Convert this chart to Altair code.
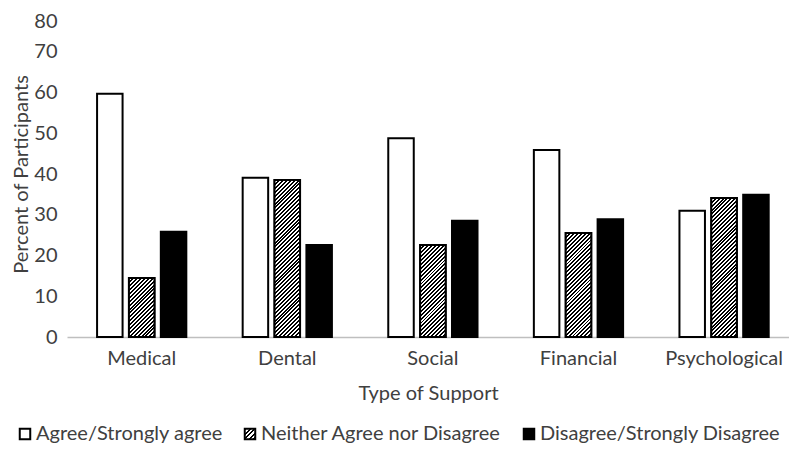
import json
import math
import altair as alt
import pandas as pd

categories = ["Medical", "Dental", "Social", "Financial", "Psychological"]
series = ["Agree/Strongly agree", "Neither Agree nor Disagree", "Disagree/Strongly Disagree"]
agree = [59.7, 39.1, 48.8, 45.9, 31.0]
neither = [14.5, 38.5, 22.6, 25.5, 34.1]
disagree = [25.8, 22.6, 28.5, 28.9, 34.9]
y_ticks = [0, 10, 20, 30, 40, 50, 60, 70, 80]

rows = []
for i, c in enumerate(categories):
    rows.append({"category": c, "series": series[0], "value": agree[i]})
    rows.append({"category": c, "series": series[1], "value": neither[i]})
    rows.append({"category": c, "series": series[2], "value": disagree[i]})
df = pd.DataFrame(rows)

# layout
W_PLOT, H_PLOT = 722, 326
PAD_TOP = 3
PI, PO, ALIGN = 0.387, 0.173, 0.597
OFF_PI = 0.2
FONT = "Lato"
TXT = "#404040"
SYM_SIZE = 110

step = W_PLOT / (len(categories) - PI + 2 * PO)
bw = step * (1 - PI)
off_step = bw / (len(series) - OFF_PI)
BAR_W = off_step * (1 - OFF_PI)


def hatch(w, h, period=3.9):
    tot = w + h
    dt = period / tot
    stops = []
    k = 0
    while k * dt < 1:
        t0 = k * dt
        tm = min(1.0, t0 + dt / 2)
        t1 = min(1.0, t0 + dt)
        stops += [
            {"offset": round(t0, 5), "color": "black"},
            {"offset": round(tm, 5), "color": "black"},
            {"offset": round(tm, 5), "color": "white"},
            {"offset": round(t1, 5), "color": "white"},
        ]
        k += 1
    den = w * w + h * h
    return {
        "gradient": "linear",
        "x1": 0, "y1": 0,
        "x2": round(w * tot / den, 5), "y2": round(h * tot / den, 5),
        "stops": stops,
    }


sym_side = math.sqrt(SYM_SIZE)
legend_hatch = {"expr": json.dumps(hatch(sym_side, sym_side, period=4.5))}

x_enc = alt.X(
    "category:N",
    sort=categories,
    scale=alt.Scale(domain=categories, paddingInner=PI, paddingOuter=PO, align=ALIGN, round=False),
    axis=alt.Axis(
        title="Type of Support", labelAngle=0, ticks=False,
        domainColor="#bfbfbf", domainWidth=1.5,
        labelFontSize=20, labelColor=TXT, labelPadding=11, labelFont=FONT,
        titleFontSize=20, titleColor=TXT, titleFont=FONT, titleFontWeight="normal",
        titlePadding=15,
    ),
)
xoff = alt.XOffset(
    "series:N", sort=series,
    scale=alt.Scale(domain=series, paddingInner=OFF_PI, paddingOuter=0, round=False),
)
y_enc = alt.Y(
    "value:Q",
    scale=alt.Scale(domain=[0, 80], nice=False),
    axis=alt.Axis(
        values=y_ticks, grid=False, domain=False, ticks=False,
        title="Percent of Participants",
        labelFontSize=20, labelColor=TXT, labelPadding=10, labelFont=FONT,
        labelBaseline={"condition": {"test": "datum.value == 80", "value": "top"}, "value": "middle"},
        titleFontSize=20, titleColor=TXT, titleFont=FONT, titleFontWeight="normal",
        titleX=-36,
    ),
)

base = alt.Chart(df).mark_bar(stroke="black", strokeWidth=2).encode(
    x=x_enc,
    xOffset=xoff,
    y=y_enc,
    fill=alt.Fill(
        "series:N", sort=series,
        scale=alt.Scale(domain=series, range=["white", legend_hatch, "black"]),
        legend=alt.Legend(
            orient="none", legendX=-52, legendY=413, direction="horizontal",
            title=None, symbolType="square", symbolSize=SYM_SIZE,
            symbolStrokeColor="black", symbolStrokeWidth=2,
            labelFontSize=20, labelFont=FONT, labelColor=TXT, labelLimit=0,
            columnPadding=17, labelOffset=1, padding=0,
        ),
    ),
)

layers = [base]
for i, c in enumerate(categories):
    layers.append(
        alt.Chart(df)
        .transform_filter(f"datum.category == '{c}' && datum.series == '{series[1]}'")
        .mark_bar(stroke="black", strokeWidth=2)
        .encode(
            x=x_enc, xOffset=xoff, y=y_enc,
            fill=alt.value(hatch(BAR_W, neither[i] * H_PLOT / 80.0)),
        )
    )

chart = (
    alt.layer(*layers)
    .properties(
        width=W_PLOT, height=H_PLOT,
        autosize=alt.AutoSizeParams(type="none"),
        padding={"left": 59, "top": PAD_TOP, "right": 0, "bottom": 436 - H_PLOT - PAD_TOP},
    )
    .configure_view(stroke=None)
)

chart.save("out.html", embed_options={"renderer": "svg", "actions": False})
